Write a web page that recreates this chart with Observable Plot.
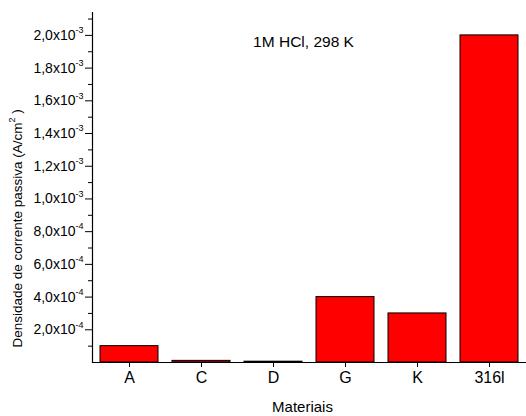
<!DOCTYPE html>
<html>
<head>
<meta charset="utf-8">
<script src="https://cdn.jsdelivr.net/npm/d3@7"></script>
<script src="https://cdn.jsdelivr.net/npm/@observablehq/plot@0.6"></script>
<style>
  html, body { margin: 0; padding: 0; background: white; }
</style>
</head>
<body>
<div id="chart"></div>
<script>
const materiais = ["A", "C", "D", "G", "K", "316l"];
const densidade = [1.0e-4, 1.0e-5, 5.0e-6, 4.0e-4, 3.0e-4, 2.0e-3];
const majorTicks = [2e-4, 4e-4, 6e-4, 8e-4, 1.0e-3, 1.2e-3, 1.4e-3, 1.6e-3, 1.8e-3, 2.0e-3];
const majorTickLabels = ["2,0x10^-4", "4,0x10^-4", "6,0x10^-4", "8,0x10^-4", "1,0x10^-3",
  "1,2x10^-3", "1,4x10^-3", "1,6x10^-3", "1,8x10^-3", "2,0x10^-3"];
const minorTicks = [1e-4, 3e-4, 5e-4, 7e-4, 9e-4, 1.1e-3, 1.3e-3, 1.5e-3, 1.7e-3, 1.9e-3, 2.1e-3];
const xLabel = "Materiais";
const yLabel = "Densidade de corrente passiva (A/cm^2^ )";
const annotation = "1M HCl, 298 K";

const data = materiais.map((m, i) => ({material: m, valor: densidade[i]}));
const font = "'Liberation Sans', Arial, sans-serif";

const chart = Plot.plot({
  width: 526,
  height: 416,
  marginLeft: 92,
  marginRight: 0,
  marginTop: 12,
  marginBottom: 54,
  style: {fontFamily: font, fontSize: "15px", background: "white", color: "black", overflow: "visible"},
  x: {domain: materiais, paddingInner: 0.19, paddingOuter: 0.095, label: null},
  y: {domain: [0, 2.14e-3], label: null},
  marks: [
    Plot.barY(data, {x: "material", y: "valor", fill: "#ff0000", stroke: "black", strokeWidth: 1}),
    Plot.ruleY([0], {stroke: "black", strokeWidth: 1.2}),
    Plot.frame({anchor: "left", stroke: "black", strokeWidth: 1.2}),
    Plot.axisY(minorTicks, {tickSize: 4, tickFormat: () => "", label: null}),
    Plot.axisY(majorTicks, {
      tickSize: 7, tickPadding: 2, label: null, fontSize: 14,
      tickFormat: d => majorTickLabels[majorTicks.indexOf(d)]
    }),
    Plot.axisX({tickSize: 5, tickPadding: 4, fontSize: 16, label: null}),
    Plot.text([xLabel], {frameAnchor: "bottom", lineAnchor: "middle", dy: 45, dx: -7, fontSize: 15}),
    Plot.text([yLabel], {frameAnchor: "left", y: () => 0.82e-3, rotate: -90, dx: -75, fontSize: 13.5, textAnchor: "middle"}),
    Plot.text([annotation], {x: () => "D", y: () => 1.96e-3, dx: 30, fontSize: 15.5})
  ]
});

// Render exponents ("^...^") as superscript tspans
d3.select(chart).selectAll("text").each(function () {
  const t = this.textContent;
  if (!t.includes("^")) return;
  const parts = t.split("^");
  const el = d3.select(this);
  el.text(parts[0]);
  const fs = parseFloat(getComputedStyle(this).fontSize) || 14;
  el.append("tspan").attr("font-size", Math.round(fs * 0.62)).attr("dy", "-0.75em").text(parts[1]);
  if (parts.length > 2 && parts[2] !== "") {
    el.append("tspan").attr("dy", "0.45em").text(parts[2]);
  }
});

document.getElementById("chart").append(chart);
</script>
</body>
</html>
